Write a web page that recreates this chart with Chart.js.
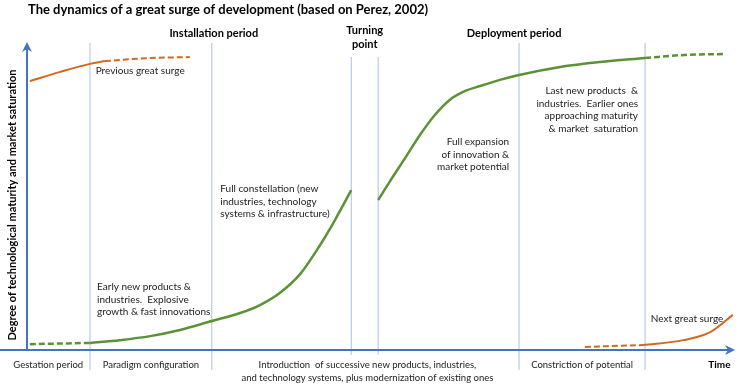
<!DOCTYPE html>
<html>
<head>
<meta charset="utf-8">
<script src="https://cdn.jsdelivr.net/npm/chart.js@4/dist/chart.umd.min.js"></script>
<style>
  html, body { margin: 0; padding: 0; background: #fff; }
  #wrap { width: 739px; height: 385px; }
</style>
</head>
<body>
<div id="wrap"><canvas id="surge" width="739" height="385"></canvas></div>
<script>
// Time runs 0..100 along the x axis, degree of maturity 0..100 up the y axis

// Current surge (green)
const gestationTime = [0.4, 8.9];
const gestationDeg = [1.9, 2.3];
const installTime = [8.9, 13.1, 17.4, 21.6, 26.1, 30.1, 32.9, 35.7, 38.6, 41.4, 43.5, 45.8];
const installDeg = [2.3, 3.2, 4.5, 6.5, 9.4, 12.0, 14.6, 18.5, 24.7, 34.1, 42.2, 51.9];
const deployTime = [49.6, 51.3, 53.4, 55.5, 57.6, 59.7, 61.9, 64.0, 66.8, 69.5, 75.3, 80.9, 87.3];
const deployDeg = [48.7, 54.9, 62.3, 69.8, 76.3, 81.2, 84.1, 85.7, 87.7, 89.3, 91.9, 93.5, 94.8];
const tailTime = [87.3, 92.9, 98.3];
const tailDeg = [94.8, 95.8, 96.1];

// Previous great surge (orange, top left)
const prevTime = [0.4, 4.7, 8.9, 11.0];
const prevDeg = [87.3, 90.3, 92.9, 93.8];
const prevFadeTime = [11.0, 17.4, 23.0];
const prevFadeDeg = [93.8, 94.8, 95.1];

// Next great surge (orange, bottom right)
const nextLeadTime = [78.8, 87.0];
const nextLeadDeg = [1.0, 1.6];
const nextTime = [87.0, 92.7, 96.5, 99.7];
const nextDeg = [1.6, 3.2, 5.8, 11.4];

// Phase boundaries
const phaseBounds = [8.9, 26.1, 69.5, 87.3];
const turningBounds = [45.8, 49.6];

const phaseNames = ['Gestation period', 'Paradigm configuration',
  ['Introduction  of successive new products, industries,', 'and technology systems, plus modernization of existing ones'],
  'Constriction of potential'];
const periodNames = ['Installation period', ['Turning', 'point'], 'Deployment period'];

const GREEN = '#5b9236';
const ORANGE = '#d2691e';
const AXIS = '#4472c4';
const GRID = '#a9bfe6';
const FONT = 'Lato, "Open Sans", sans-serif';

const pts = (xs, ys) => xs.map((x, i) => ({ x, y: ys[i] }));

const curve = (xs, ys, color, width, dashed) => ({
  data: pts(xs, ys),
  borderColor: color,
  borderWidth: width,
  borderDash: dashed ? [6, 3] : [],
  cubicInterpolationMode: 'monotone',
  pointRadius: 0,
  fill: false,
  clip: false,
  order: 1
});

const vline = (t, top, bottom) => ({
  data: [{ x: t, y: bottom }, { x: t, y: top }],
  borderColor: GRID,
  borderWidth: 1,
  pointRadius: 0,
  clip: false,
  order: 2
});

const datasets = [
  curve(gestationTime, gestationDeg, GREEN, 2.5, true),
  curve(installTime, installDeg, GREEN, 2.5, false),
  curve(deployTime, deployDeg, GREEN, 2.5, false),
  curve(tailTime, tailDeg, GREEN, 2.5, true),
  curve(prevTime, prevDeg, ORANGE, 2, false),
  curve(prevFadeTime, prevFadeDeg, ORANGE, 2, true),
  curve(nextLeadTime, nextLeadDeg, ORANGE, 2, true),
  curve(nextTime, nextDeg, ORANGE, 2, false),
  ...phaseBounds.map(t => vline(t, 99.7, -6.5)),
  ...turningBounds.map(t => vline(t, 95.1, -1.6))
];

// Text blocks placed in data units: [time, degree, align, lines]
const notes = [
  [9.7, 90.6, 'left', ['Previous great surge']],
  [27.3, 52.3, 'left', ['Full constellation (new', 'industries, technology', 'systems & infrastructure)']],
  [68.1, 67.5, 'right', ['Full expansion', 'of innovation &', 'market potential']],
  [86.3, 84.1, 'right', ['Last new products  &', 'industries.  Earlier ones', 'approaching maturity', '& market  saturation']],
  [9.9, 20.5, 'left', ['Early new products &', 'industries.  Explosive', 'growth & fast innovations']],
  [88.1, 10.1, 'left', ['Next great surge']]
];

const overlay = {
  id: 'overlay',
  afterDatasetsDraw(chart) {
    const ctx = chart.ctx;
    const xs = chart.scales.x, ys = chart.scales.y;
    const X = v => xs.getPixelForValue(v);
    const Y = v => ys.getPixelForValue(v);
    const x0 = X(0), y0 = Y(0), x1 = X(100), y1 = Y(100);

    ctx.save();
    // axes with arrow heads
    ctx.strokeStyle = AXIS;
    ctx.fillStyle = AXIS;
    ctx.lineWidth = 2;
    ctx.beginPath();
    ctx.moveTo(0, y0); ctx.lineTo(x1 - 6, y0);
    ctx.moveTo(x0, y0); ctx.lineTo(x0, y1 + 6);
    ctx.stroke();
    ctx.beginPath();
    ctx.moveTo(x1, y0); ctx.lineTo(x1 - 10, y0 - 5); ctx.lineTo(x1 - 7, y0); ctx.lineTo(x1 - 10, y0 + 5);
    ctx.closePath(); ctx.fill();
    ctx.beginPath();
    ctx.moveTo(x0, y1); ctx.lineTo(x0 - 5, y1 + 10); ctx.lineTo(x0, y1 + 7); ctx.lineTo(x0 + 5, y1 + 10);
    ctx.closePath(); ctx.fill();

    ctx.textBaseline = 'middle';
    ctx.fillStyle = '#000';

    // title
    ctx.font = 'bold 13px ' + FONT;
    ctx.textAlign = 'left';
    ctx.fillText('The dynamics of a great surge of development (based on Perez, 2002)', 28, 10);

    // y axis label
    ctx.save();
    ctx.translate(12, 205);
    ctx.rotate(-Math.PI / 2);
    ctx.textAlign = 'center';
    ctx.font = 'bold 11px ' + FONT;
    ctx.fillText('Degree of technological maturity and market saturation', 0, 0);
    ctx.restore();

    // period headers
    ctx.font = 'bold 11px ' + FONT;
    ctx.textAlign = 'center';
    const tpX = (X(turningBounds[0]) + X(turningBounds[1])) / 2;
    ctx.fillText(periodNames[0], X(phaseBounds[1]) + 2, 33);
    ctx.fillText(periodNames[1][0], tpX, 30);
    ctx.fillText(periodNames[1][1], tpX, 44);
    ctx.fillText(periodNames[2], X(phaseBounds[2]) - 5, 33);

    // phase names under the axis
    ctx.font = '9.5px ' + FONT;
    ctx.fillStyle = '#222';
    const edges = [0, phaseBounds[0], phaseBounds[1], phaseBounds[2], phaseBounds[3]];
    const centers = [X(3), (X(edges[1]) + X(edges[2])) / 2, (X(edges[2]) + X(edges[3])) / 2 + 2, (X(edges[3]) + X(edges[4])) / 2];
    phaseNames.forEach((n, i) => {
      const lines = Array.isArray(n) ? n : [n];
      lines.forEach((l, k) => ctx.fillText(l, centers[i], y0 + 15 + k * 13));
    });
    ctx.font = 'bold 10px ' + FONT;
    ctx.fillStyle = '#000';
    ctx.fillText('Time', X(97.8), y0 + 15);

    // notes
    ctx.font = '10px ' + FONT;
    ctx.fillStyle = '#222';
    notes.forEach(([t, d, align, lines]) => {
      ctx.textAlign = align;
      lines.forEach((l, k) => ctx.fillText(l, X(t), Y(d) + k * 12.5));
    });
    ctx.restore();
  }
};

new Chart(document.getElementById('surge'), {
  type: 'line',
  data: { datasets },
  options: {
    responsive: false,
    animation: false,
    layout: { padding: { left: 27, right: 4, top: 42, bottom: 35 } },
    scales: {
      x: { type: 'linear', min: 0, max: 100, display: false },
      y: { type: 'linear', min: 0, max: 100, display: false }
    },
    plugins: { legend: { display: false }, tooltip: { enabled: false }, title: { display: false } }
  },
  plugins: [overlay]
});
</script>
</body>
</html>
